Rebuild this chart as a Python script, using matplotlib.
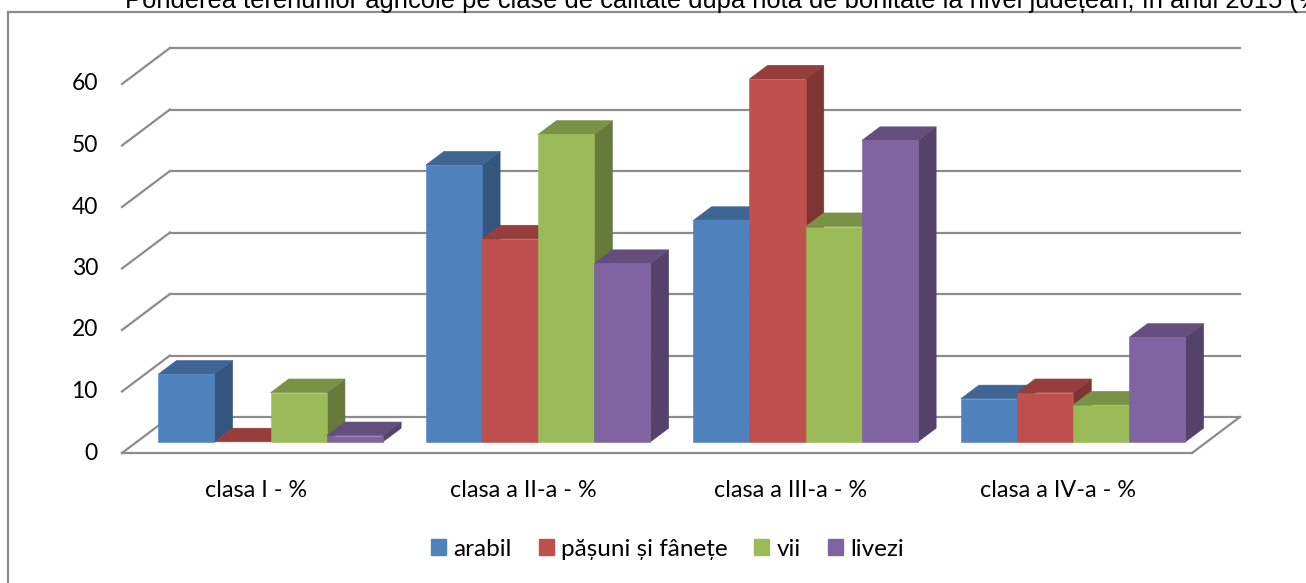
import matplotlib
matplotlib.use("Agg")
import matplotlib.pyplot as plt
from matplotlib.patches import Polygon, Patch
from matplotlib.lines import Line2D
import matplotlib.colors as mcolors

# Ponderea terenurilor agricole pe clase de calitate (%)
categories = ["clasa I - %", "clasa a II-a - %", "clasa a III-a - %", "clasa a IV-a - %"]
series_names = ["arabil", "pășuni și fânețe", "vii", "livezi"]
arabil = [11, 45, 36, 7]
pasuni = [0, 33, 59, 8]
vii = [8, 50, 35, 6]
livezi = [1, 29, 49, 17]
yticks = [0, 10, 20, 30, 40, 50, 60]

series_vals = [arabil, pasuni, vii, livezi]
COLORS = ["#4F81BD", "#C0504D", "#9BBB59", "#8064A2"]
GRID = "#8c8c8c"
FONT = "Lato"

# oblique depth offset of the plot box (data units)
DX, DY = 0.179, 5.85
D_FRONT, D_BACK = 0.31, 0.69     # bar depth inside the box
GAP = 0.16                        # gap between groups, fraction of category
BW = (1 - GAP) / len(series_names)


def shade(c, k):
    r, g, b = mcolors.to_rgb(c)
    return (r * k, g * k, b * k)


fig = plt.figure(figsize=(13.06, 5.83), dpi=100)
ax = fig.add_axes([122 / 1306, 130 / 583, 1070 / 1306, 369 / 583])
ax.set_xlim(0, len(categories))
ax.set_ylim(0, 60)
ax.axis("off")

ncat = len(categories)

# back wall gridlines + left side diagonals
for v in yticks:
    ax.add_line(Line2D([DX, ncat + DX], [v + DY, v + DY], color=GRID, lw=1.6,
                       clip_on=False, zorder=1))
    ax.add_line(Line2D([0, DX], [v, v + DY], color=GRID, lw=1.6,
                       clip_on=False, zorder=1))
    ax.text(-0.09, v, str(v), ha="right", va="center", fontsize=16.5,
            family=FONT, color="#000000")

# floor front edge and right diagonal
ax.add_line(Line2D([0, ncat], [0, 0], color=GRID, lw=1.6, clip_on=False, zorder=1))
ax.add_line(Line2D([ncat, ncat + DX], [0, DY], color=GRID, lw=1.6,
                   clip_on=False, zorder=1))

# bars: left to right so each front face hides the neighbour's side
z = 2
for i in range(ncat):
    for j, vals in enumerate(series_vals):
        v = vals[i]
        xl = i + GAP / 2 + j * BW
        xr = xl + BW
        fx, fy = D_FRONT * DX, D_FRONT * DY
        bx, by = D_BACK * DX, D_BACK * DY
        c = COLORS[j]
        side = [(xr + fx, fy), (xr + bx, by), (xr + bx, v + by), (xr + fx, v + fy)]
        top = [(xl + fx, v + fy), (xr + fx, v + fy), (xr + bx, v + by), (xl + bx, v + by)]
        front = [(xl + fx, fy), (xr + fx, fy), (xr + fx, v + fy), (xl + fx, v + fy)]
        ax.add_patch(Polygon(side, closed=True, facecolor=shade(c, 0.66),
                             edgecolor=shade(c, 0.66), lw=0.4, clip_on=False, zorder=z))
        ax.add_patch(Polygon(top, closed=True, facecolor=shade(c, 0.78),
                             edgecolor=shade(c, 0.78), lw=0.4, clip_on=False, zorder=z + 1))
        if v > 0:
            ax.add_patch(Polygon(front, closed=True, facecolor=c, edgecolor=c,
                                 lw=0.4, clip_on=False, zorder=z + 2))
        z += 3
    ax.text(i + 0.5, -6.1, categories[i], ha="center", va="center",
            fontsize=16.8, family=FONT, color="#000000")

# title, clipped by the top of the canvas
fig.text(125 / 1306, 1 - 8 / 583,
         "Ponderea terenurilor agricole pe clase de calitate după nota de bonitate "
         "la nivel județean, în anul 2015 (%)",
         ha="left", va="baseline", fontsize=18.4, family="Liberation Sans")

# chart frame
fig.add_artist(Line2D([8 / 1306, 8 / 1306], [0, 1 - 11.5 / 583], color=GRID, lw=1.6,
                      transform=fig.transFigure))
fig.add_artist(Line2D([8 / 1306, 1], [1 - 11.5 / 583, 1 - 11.5 / 583], color=GRID,
                      lw=1.6, transform=fig.transFigure))

handles = [Patch(facecolor=c, edgecolor=c) for c in COLORS]
leg = fig.legend(handles, series_names, loc="center", bbox_to_anchor=(0.511, 0.058),
                 ncol=4, frameon=False, handlelength=0.62, handleheight=0.62,
                 handletextpad=0.3, columnspacing=1.1,
                 prop={"family": FONT, "size": 17.5})

fig.savefig("out.png", dpi=100)
